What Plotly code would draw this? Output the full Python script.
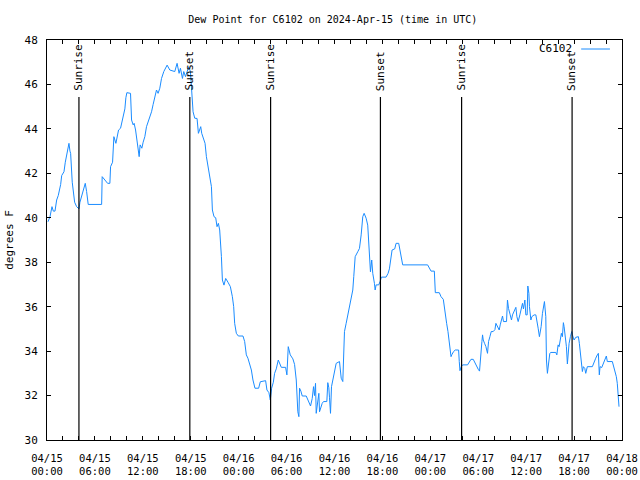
import datetime as dt
import plotly.graph_objects as go

# ---- data -------------------------------------------------------------
start = dt.datetime(2024, 4, 15, 0, 0)
hours = [0.125, 0.375, 0.625, 0.79, 1.0, 1.21, 1.41, 1.71, 1.84, 2.125, 2.29, 2.54, 2.75, 2.875, 2.96,
         3.16, 3.29, 3.46, 3.71, 4.0, 4.125, 4.34, 4.54, 4.79, 4.96, 5.16, 6.84, 6.91, 7.25, 7.59,
         7.875, 7.96, 8.21, 8.375, 8.625, 8.79, 8.96, 9.21, 9.46, 9.75, 9.875, 10.0, 10.46, 10.59,
         10.79, 10.91, 11.09, 11.34, 11.54, 11.66, 11.875, 12.04, 12.25, 12.46, 12.71, 12.875, 13.09,
         13.29, 13.5, 13.71, 13.91, 14.125, 14.34, 14.625, 15.04, 15.375, 16.0, 16.29, 16.54, 16.71,
         16.96, 17.125, 17.34, 17.54, 17.75, 17.96, 18.125, 18.29, 18.5, 18.79, 18.96, 19.125, 19.25,
         19.375, 19.54, 19.79, 19.96, 20.16, 20.375, 20.59, 20.71, 20.91, 21.125, 21.29, 21.46, 21.625,
         21.84, 21.96, 22.16, 22.375, 22.66, 22.96, 23.21, 23.375, 23.5, 23.71, 23.96, 24.54, 24.75,
         24.96, 25.16, 25.375, 25.59, 25.79, 26.04, 26.5, 26.71, 27.375, 27.54, 27.79, 27.96, 28.125,
         28.34, 28.5, 28.71, 28.96, 29.125, 29.34, 29.875, 30.04, 30.21, 30.46, 30.79, 31.0, 31.21,
         31.29, 31.41, 31.54, 31.625, 31.79, 31.96, 32.46, 32.66, 32.875, 33.0, 33.21, 33.375, 33.5,
         33.625, 33.71, 33.84, 33.96, 34.04, 34.125, 34.29, 34.46, 34.625, 35.04, 35.16, 35.29, 35.375,
         35.5, 35.625, 35.79, 36.0, 36.21, 36.625, 36.84, 37.04, 37.16, 37.25, 37.46, 37.66, 37.875,
         38.09, 38.29, 38.41, 38.59, 38.91, 39.125, 39.34, 39.54, 39.71, 39.96, 40.16, 40.375, 40.5,
         40.66, 40.79, 41.0, 41.09, 41.21, 41.54, 41.71, 41.875, 42.46, 42.71, 42.875, 43.0, 43.21,
         43.54, 43.71, 44.04, 44.21, 44.375, 44.54, 47.66, 47.875, 48.09, 48.5, 48.625, 49.125, 49.34,
         49.625, 49.75, 49.875, 50.04, 50.21, 50.29, 50.46, 50.59, 50.71, 50.91, 51.125, 51.54, 51.625,
         51.71, 51.875, 52.04, 52.66, 52.875, 53.09, 53.375, 53.59, 53.79, 54.0, 54.16, 54.29, 54.46,
         54.54, 54.625, 54.79, 54.96, 55.16, 55.29, 55.46, 55.625, 55.875, 56.09, 56.21, 56.41, 56.625,
         56.75, 56.91, 57.04, 57.16, 57.54, 57.66, 57.79, 58.0, 58.16, 58.29, 58.5, 58.71, 58.84, 59.0,
         59.21, 59.375, 59.54, 59.66, 59.84, 59.96, 60.125, 60.21, 60.34, 60.41, 60.59, 60.71, 61.0,
         61.21, 61.34, 61.5, 61.66, 61.875, 62.04, 62.16, 62.29, 62.46, 62.54, 62.66, 62.79, 62.96,
         63.09, 63.71, 63.84, 64.0, 64.125, 64.25, 64.41, 64.54, 64.66, 64.75, 64.875, 65.04, 65.16,
         65.25, 65.375, 65.54, 65.71, 65.79, 66.0, 66.21, 66.54, 66.66, 66.79, 66.91, 67.04, 67.16,
         67.34, 67.46, 67.66, 68.29, 68.5, 68.71, 68.91, 69.04, 69.16, 69.25, 69.46, 69.625, 69.84,
         70.04, 70.16, 70.79, 70.91, 71.125, 71.29, 71.41, 71.54, 71.625]
dew_point = [39.82, 40.05, 40.5, 40.3, 40.3, 40.8, 41.0, 41.5, 41.9, 42.07, 42.5, 42.9, 43.35, 43.0, 42.9,
             41.6, 41.1, 40.7, 40.5, 40.4, 40.7, 41.0, 41.25, 41.55, 41.18, 40.6, 40.6, 41.85, 41.7, 41.55,
             41.55, 42.3, 42.5, 43.65, 43.35, 43.7, 43.95, 44.03, 44.5, 44.9, 45.4, 45.63, 45.6, 44.4,
             44.18, 44.25, 43.95, 43.35, 42.75, 43.28, 43.13, 43.4, 43.65, 44.1, 44.33, 44.5, 44.77,
             45.1, 45.45, 45.75, 45.6, 45.83, 46.27, 46.58, 46.87, 46.65, 46.58, 46.95, 46.5, 46.73,
             46.27, 46.58, 46.35, 46.58, 46.8, 46.58, 45.75, 44.77, 44.48, 44.47, 43.8, 44.0, 44.1,
             43.8, 43.65, 43.35, 42.75, 42.3, 41.85, 41.4, 40.35, 40.05, 40.0, 39.6, 39.75, 39.45,
             38.25, 37.2, 36.97, 37.27, 37.1, 36.9, 36.45, 36.0, 35.25, 34.8, 34.68, 34.68, 34.43,
             33.83, 33.68, 33.45, 33.15, 32.7, 32.33, 32.33, 32.62, 32.67, 32.25, 32.13, 31.8, 32.33,
             32.6, 33.0, 33.2, 33.6, 33.45, 33.27, 33.27, 32.93, 34.2, 33.83, 33.65, 33.4, 32.7,
             31.8, 31.27, 31.05, 32.33, 32.2, 31.98, 31.98, 31.8, 31.65, 31.53, 31.87, 32.4, 32.0,
             32.55, 31.2, 31.5, 31.95, 32.1, 31.27, 31.5, 31.65, 31.73, 31.73, 32.58, 32.35, 31.9,
             31.2, 32.4, 32.7, 33.15, 33.45, 33.53, 32.78, 32.63, 33.68, 34.88, 35.25, 35.63, 36.08,
             36.45, 36.75, 37.35, 38.25, 38.47, 38.62, 39.23, 40.05, 40.2, 39.98, 39.67, 38.55, 37.57,
             38.1, 37.5, 37.05, 36.75, 36.98, 36.98, 37.13, 37.33, 37.33, 37.5, 37.7, 38.1, 38.55,
             38.6, 38.85, 38.85, 38.55, 38.18, 37.88, 37.88, 37.73, 37.6, 37.6, 36.63, 36.63, 36.45,
             36.33, 35.95, 35.7, 35.25, 34.88, 34.58, 34.23, 33.75, 33.85, 33.98, 34.05, 34.05, 33.53,
             33.12, 33.3, 33.38, 33.38, 33.53, 33.63, 33.63, 33.45, 33.3, 33.18, 33.1, 33.9, 34.43,
             34.73, 34.5, 34.35, 34.2, 33.9, 34.43, 34.65, 34.88, 34.88, 34.97, 35.25, 35.1, 34.95,
             35.18, 35.4, 35.58, 35.33, 35.33, 36.3, 35.92, 35.63, 35.4, 35.63, 35.85, 35.97, 35.55, 35.33,
             35.63, 35.85, 36.15, 35.9, 36.3, 35.63, 35.63, 36.93, 36.6, 36.0, 35.4, 35.55, 35.63,
             35.63, 35.25, 35.03, 34.65, 35.1, 35.7, 36.03, 36.23, 35.55, 33.6, 33.0, 33.45, 33.9,
             33.94, 33.94, 33.83, 34.28, 34.2, 34.5, 34.8, 34.65, 35.28, 35.1, 34.8, 34.2, 33.42,
             33.9, 34.35, 34.65, 34.88, 34.73, 34.5, 34.62, 34.65, 34.35, 33.9, 33.45, 33.08, 33.3,
             33.22, 33.0, 33.3, 33.3, 33.53, 33.68, 33.83, 33.9, 32.93, 33.3, 33.26, 33.45, 33.6,
             33.78, 33.53, 33.53, 33.38, 33.08, 32.85, 32.55, 32.1, 31.5]

event_times = ["2024-04-15 04:00", "2024-04-15 17:53", "2024-04-16 04:00",
               "2024-04-16 17:45", "2024-04-17 03:55", "2024-04-17 17:45"]
event_labels = ["Sunrise", "Sunset", "Sunrise", "Sunset", "Sunrise", "Sunset"]

tick_hours = list(range(0, 73, 2))
series_name = "C6102"
title_text = "Dew Point for C6102 on 2024-Apr-15 (time in UTC)"
y_title = "degrees F"
y_ticks = list(range(30, 49, 2))

# ---- figure ------------------------------------------------------------
FONT = "DejaVu Sans Mono"
LINE_COLOR = "#1a8cff"
times = [start + dt.timedelta(hours=h) for h in hours]
tickvals = [start + dt.timedelta(hours=h) for h in tick_hours]
ticktext = [(start + dt.timedelta(hours=h)).strftime("%m/%d<br>%H:%M") if h % 6 == 0 else ""
            for h in tick_hours]

fig = go.Figure()
fig.add_trace(go.Scatter(x=times, y=dew_point, mode="lines", name=series_name,
                         line=dict(color=LINE_COLOR, width=1), showlegend=False))

for t, lab in zip(event_times, event_labels):
    fig.add_shape(type="line", xref="x", yref="paper", x0=t, x1=t, y0=0, y1=0.8575,
                  line=dict(color="black", width=1.2))
    fig.add_annotation(x=t, xref="x", y=0.868, yref="paper", text=lab, textangle=-90,
                       showarrow=False, xanchor="center", yanchor="bottom",
                       font=dict(family=FONT, size=11, color="black"))

# legend (gnuplot style: text then sample line)
fig.add_annotation(x=0.916, xref="paper", y=0.9775, yref="paper", text=series_name,
                   showarrow=False, xanchor="right", yanchor="middle",
                   font=dict(family=FONT, size=11, color="black"))
fig.add_shape(type="line", xref="paper", yref="paper", x0=0.929, x1=0.979, y0=0.9775, y1=0.9775,
              line=dict(color=LINE_COLOR, width=1))

fig.update_layout(
    width=640, height=480,
    margin=dict(l=47, r=18, t=40, b=40, autoexpand=False),
    paper_bgcolor="white", plot_bgcolor="white",
    title=dict(text=title_text, x=0.52, xanchor="center", y=0.96, yanchor="middle",
               font=dict(family=FONT, size=10, color="black")),
    font=dict(family=FONT, size=11, color="black"),
)
fig.update_xaxes(range=[start, start + dt.timedelta(hours=72)], tickvals=tickvals, ticktext=ticktext,
                 ticks="inside", ticklen=4, tickcolor="black", showline=True, linecolor="black",
                 linewidth=1, mirror="ticks", showgrid=False, zeroline=False, automargin=False,
                 ticklabelstandoff=8,
                 tickfont=dict(family=FONT, size=10.5, color="black"))
fig.update_yaxes(range=[30, 48], tickvals=y_ticks, ticks="inside", ticklen=4, tickcolor="black",
                 showline=True, linecolor="black", linewidth=1, mirror="ticks", showgrid=False,
                 zeroline=False, automargin=False, ticklabelstandoff=6,
                 title=dict(text=y_title, standoff=8,
                            font=dict(family=FONT, size=11, color="black")),
                 tickfont=dict(family=FONT, size=11, color="black"))

fig.write_html("out.html")
